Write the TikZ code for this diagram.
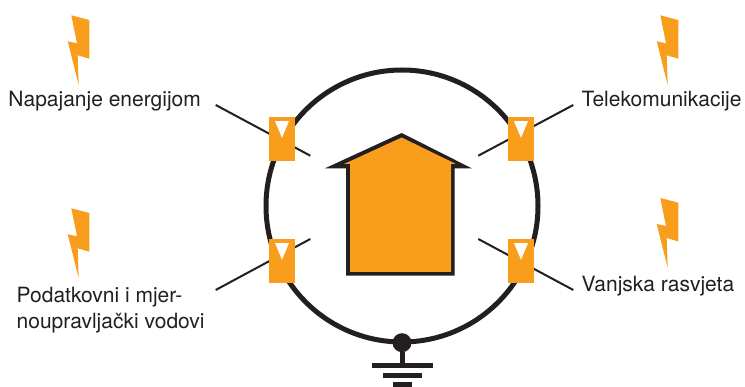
\documentclass[tikz,border=0pt]{standalone}
\usepackage{fontspec}
\setmainfont{TeX Gyre Heros}
\definecolor{org}{HTML}{F99D1C}
\definecolor{ink}{HTML}{231F20}
\usetikzlibrary{calc}
\tikzset{
  x=1pt,y=-1pt,
  wire/.style={draw=ink,line width=2pt},
  ring/.style={draw=ink,line width=5pt},
  spd/.style={fill=org,draw=none,minimum width=26pt,minimum height=44pt,inner sep=0pt,rectangle},
  tri/.style={fill=white,draw=none},
  bolt/.style={fill=org,draw=none},
  bar/.style={fill=ink,draw=none},
  lab/.style={font=\fontsize{21}{26}\selectfont,text=ink,inner sep=0pt,align=left}
}
\newcommand{\boltat}[2]{\fill[bolt,shift={(#1,#2)}] (71.3,15.3) -- (89.3,20) -- (89.3,58.7) -- (77.7,55.3) -- (78.7,85.3) -- (67.7,41.3) -- (77,43.3) -- cycle;}
\newcommand{\triat}[1]{\fill[tri] ($(#1.north)+(-7,4.3)$) -- ($(#1.north)+(7,4.3)$) -- ($(#1.north)+(0,21)$) -- cycle;}
\begin{document}
\begin{tikzpicture}
\useasboundingbox (0,0) rectangle (745,387);
\coordinate (c) at (402,206);
\draw[ring] (c) circle[radius=136];
% wires
\coordinate (a1) at (215.7,105); \coordinate (a2) at (310.3,155.7);
\coordinate (b1) at (573.3,105); \coordinate (b2) at (478.3,155.7);
\coordinate (d1) at (215.7,290); \coordinate (d2) at (310.3,239);
\coordinate (e1) at (573.3,290); \coordinate (e2) at (478.3,239);
\draw[wire] (a1) -- (a2);
\draw[wire] (b1) -- (b2);
\draw[wire] (d1) -- (d2);
\draw[wire] (e1) -- (e2);
% protectors
\node[spd] (s1) at (282,139) {};
\node[spd] (s2) at (521,139) {};
\node[spd] (s3) at (282,261) {};
\node[spd] (s4) at (521,261) {};
\triat{s1}\triat{s2}\triat{s3}\triat{s4}
% house
\fill[ink] (401.7,133) -- (471.7,168.3) -- (454.7,168.3) -- (454.7,275.7) -- (346,275.7) -- (346,168.3) -- (325,168.3) -- cycle;
\fill[org] (401.7,137.5) -- (456,164) -- (451,164) -- (451,272) -- (350,272) -- (350,164) -- (344,164) -- cycle;
% earth
\node[circle,fill=ink,minimum size=19pt,inner sep=0pt] (g) at (402,342.7) {};
\coordinate (g0) at (402,363);
\draw[ink,line width=5pt] (g) -- (g0);
\fill[bar] (372,363) rectangle (432.7,368.5);
\fill[bar] (383,372.7) rectangle (421.5,378);
\fill[bar] (392.5,382.3) rectangle (412,387);
% bolts
\boltat{0}{0}
\boltat{589}{0}
\boltat{0}{193}
\boltat{589}{182.7}
% labels
\node[lab,anchor=base west] (t1) at (8.3,107) {Napajanje energijom};
\node[lab,anchor=base west] (t2) at (581.5,107) {Telekomunikacije};
\node[lab,anchor=base west] (t3) at (581.5,291.5) {Vanjska rasvjeta};
\node[lab,anchor=base west] (t4) at (16.5,302.3) {Podatkovni i mjer-};
\node[lab,anchor=base west] (t5) at (16.5,328.3) {noupravljački vodovi};
\end{tikzpicture}
\end{document}
